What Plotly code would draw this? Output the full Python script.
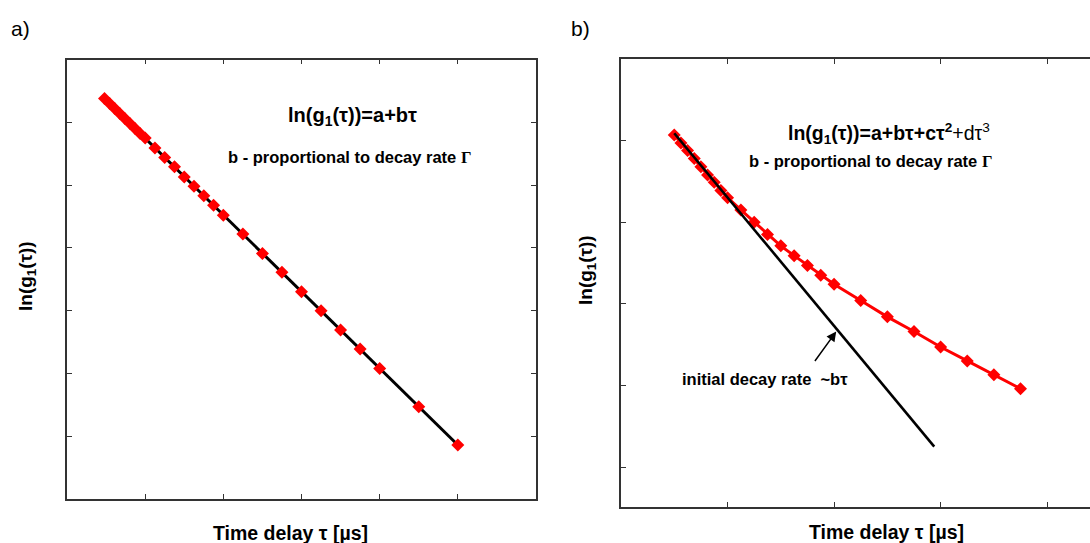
import plotly.graph_objects as go

W, H = 1090, 543

# ---------------- data (arbitrary units) ----------------
# panel a: ln(g1) vs tau, single exponential decay
tau_a = [0.48, 0.545, 0.61, 0.675, 0.74, 0.805, 0.87, 0.935, 1.0,
         1.125, 1.25, 1.375, 1.5, 1.625, 1.75, 1.875, 2.0,
         2.25, 2.5, 2.75, 3.0, 3.25, 3.5, 3.75, 4.0, 4.5, 5.0]
lng_a = [6.38, 6.30, 6.22, 6.14, 6.06, 5.98, 5.90, 5.82, 5.75,
         5.59, 5.44, 5.29, 5.13, 4.98, 4.83, 4.68, 4.52,
         4.22, 3.91, 3.61, 3.30, 3.00, 2.69, 2.39, 2.08, 1.47, 0.86]
fit_tau_a = [0.48, 5.0]
fit_lng_a = [6.38, 0.86]

# panel b: ln(g1) vs tau, polydisperse (curved) decay
tau_b = [0.5, 0.5625, 0.625, 0.6875, 0.75, 0.8125, 0.875, 0.9375, 1.0,
         1.125, 1.25, 1.375, 1.5, 1.625, 1.75, 1.875, 2.0,
         2.25, 2.5, 2.75, 3.0, 3.25, 3.5, 3.75]
lng_b = [4.07, 3.97, 3.88, 3.78, 3.68, 3.58, 3.49, 3.39, 3.30,
         3.15, 3.00, 2.85, 2.71, 2.59, 2.47, 2.35, 2.24,
         2.04, 1.84, 1.66, 1.47, 1.30, 1.13, 0.96]
init_tau_b = [0.50, 2.94]
init_lng_b = [4.09, 0.25]

# arrow (panel b data coords): tip on the initial-slope line, tail near the text
arrow_tip = (2.02, 1.66)
arrow_tail = (1.81, 1.28)

RED = "#ff0000"
AXC = "#333333"
FONT = "Liberation Sans, Arial, sans-serif"


def px(x, y):
    """pixel position -> paper coords"""
    return x / W, 1 - y / H


fig = go.Figure()

# panel a
fig.add_trace(go.Scatter(x=fit_tau_a, y=fit_lng_a, mode="lines",
                         line=dict(color="black", width=3),
                         xaxis="x", yaxis="y", showlegend=False))
fig.add_trace(go.Scatter(x=tau_a, y=lng_a, mode="markers",
                         marker=dict(symbol="diamond", size=10, color=RED,
                                     line=dict(width=0)),
                         xaxis="x", yaxis="y", showlegend=False))

# panel b
fig.add_trace(go.Scatter(x=tau_b, y=lng_b, mode="lines+markers",
                         line=dict(color=RED, width=3),
                         marker=dict(symbol="diamond", size=10, color=RED,
                                     line=dict(width=0)),
                         xaxis="x2", yaxis="y2", showlegend=False))
fig.add_trace(go.Scatter(x=init_tau_b, y=init_lng_b, mode="lines",
                         line=dict(color="black", width=2.6),
                         xaxis="x2", yaxis="y2", showlegend=False))

axis_common = dict(showline=True, linecolor=AXC, linewidth=1.5,
                   ticks="inside", ticklen=5, tickwidth=1, tickcolor=AXC,
                   showticklabels=False, showgrid=False, zeroline=False,
                   fixedrange=True)

fig.update_layout(
    width=W, height=H,
    margin=dict(l=0, r=0, t=0, b=0),
    paper_bgcolor="white", plot_bgcolor="white",
    font=dict(family=FONT, color="black"),
    xaxis=dict(domain=[67 / W, 536 / W], range=[0, 6], anchor="y",
               tickvals=[1, 2, 3, 4, 5], mirror="ticks", **axis_common),
    yaxis=dict(domain=[1 - 499 / H, 1 - 59.5 / H], range=[0, 7], anchor="x",
               tickvals=[1, 2, 3, 4, 5, 6], mirror="ticks", **axis_common),
    xaxis2=dict(domain=[621 / W, 1.0], range=[0, 4.402], anchor="y2",
                tickvals=[1, 2, 3, 4], mirror="ticks", **axis_common),
    yaxis2=dict(domain=[1 - 507 / H, 1 - 59 / H], range=[-0.49, 5], anchor="x2",
                tickvals=[0, 1, 2, 3, 4], mirror=False, **axis_common),
)

ann = []


def text(x, y, s, size, angle=0, xanchor="center"):
    xp, yp = px(x, y)
    ann.append(dict(x=xp, y=yp, xref="paper", yref="paper", text=s,
                    showarrow=False, textangle=angle, xanchor=xanchor,
                    yanchor="middle", font=dict(size=size, family=FONT, color="black")))


GAMMA = "<span style=\"font-family:'Liberation Serif', 'Times New Roman', serif\">Γ</span>"

# panel labels
text(20, 29, "a)", 21)
text(580, 29, "b)", 21)

# axis titles
text(290, 533, "<b>Time delay τ [µs]</b>", 19.5)
text(886, 532, "<b>Time delay τ [µs]</b>", 19.5)
text(27, 276, "<b>ln(g<sub>1</sub>(τ))</b>", 19, angle=-90)
text(587, 270, "<b>ln(g<sub>1</sub>(τ))</b>", 19, angle=-90)

# panel a formulas
text(352, 116, "<b>ln(g<sub>1</sub>(τ))=a+bτ</b>", 20)
text(349, 158, "<b>b - proportional to decay rate " + GAMMA + "</b>", 16.5)

# panel b formulas
text(889, 133, "<b>ln(g<sub>1</sub>(τ))=a+bτ+cτ<sup>2</sup></b>+dτ<sup>3</sup>", 19.5)
text(870, 161, "<b>b - proportional to decay rate " + GAMMA + "</b>", 16.5)
text(765, 379, "<b>initial decay rate  ~bτ</b>", 16.5)

# arrow
ann.append(dict(x=arrow_tip[0], y=arrow_tip[1], xref="x2", yref="y2",
                ax=arrow_tail[0], ay=arrow_tail[1], axref="x2", ayref="y2",
                text="", showarrow=True, arrowhead=2, arrowsize=1.3,
                arrowwidth=1.5, arrowcolor="black"))

fig.update_layout(annotations=ann)

fig.write_html("out.html")
